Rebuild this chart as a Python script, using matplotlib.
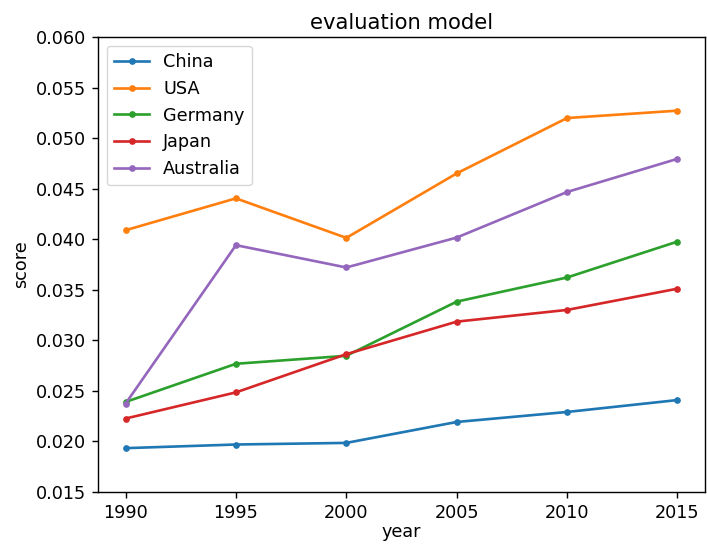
import matplotlib
matplotlib.use("Agg")
import matplotlib.pyplot as plt
import numpy as np

years = [1990, 1995, 2000, 2005, 2010, 2015]
china = [0.01931, 0.01967, 0.01983, 0.02190, 0.02289, 0.02407]
usa = [0.04088, 0.04403, 0.04012, 0.04650, 0.05198, 0.05271]
germany = [0.02388, 0.02766, 0.02845, 0.03381, 0.03620, 0.03975]
japan = [0.02224, 0.02483, 0.02861, 0.03183, 0.03299, 0.03509]
australia = [0.02372, 0.03940, 0.03719, 0.04015, 0.04466, 0.04794]
labels = ["China", "USA", "Germany", "Japan", "Australia"]

s = 1.27
plt.rcParams.update({
    "font.size": 10 * s,
    "lines.linewidth": 1.5 * s,
    "lines.markersize": 6 * s,
    "axes.linewidth": 0.8 * s,
    "xtick.major.size": 3.5 * s,
    "ytick.major.size": 3.5 * s,
    "xtick.major.width": 0.8 * s,
    "ytick.major.width": 0.8 * s,
    "xtick.major.pad": 3.5 * s,
    "ytick.major.pad": 3.5 * s,
    "legend.fontsize": 10 * s,
})

fig = plt.figure(figsize=(7.07, 5.44), dpi=100)
ax = fig.add_axes([98/707, 1-491.7/544, (705-98)/707, (491.7-37)/544])
for vals, lab in zip([china, usa, germany, japan, australia], labels):
    ax.plot(years, vals, marker='.', label=lab)
ax.set_ylim(0.015, 0.060)
ax.set_yticks(np.arange(0.015, 0.0601, 0.005))
ax.set_xticks(years)
ax.set_xlabel("year", labelpad=1)
ax.set_ylabel("score")
ax.set_title("evaluation model")
ax.legend(loc="upper left")
fig.savefig("out.png", dpi=100)
